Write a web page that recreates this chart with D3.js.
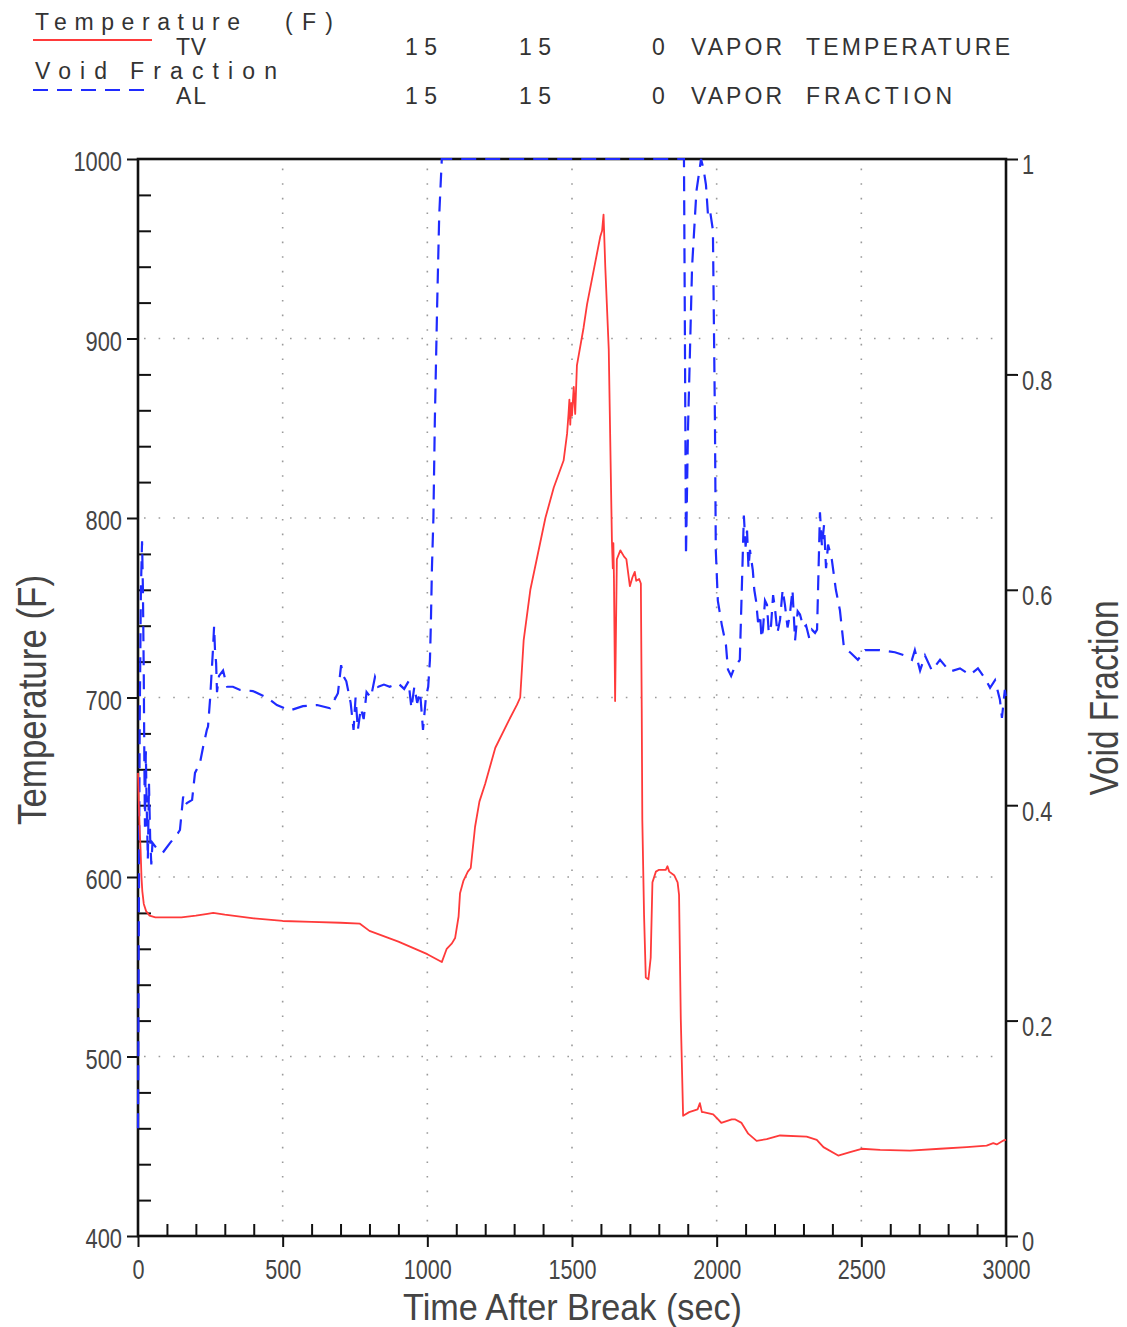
<!DOCTYPE html>
<html>
<head>
<meta charset="utf-8">
<script src="https://cdn.jsdelivr.net/npm/d3@7/dist/d3.min.js"></script>
<style>
  html, body { margin: 0; padding: 0; background: #fff; }
  svg { display: block; }
</style>
</head>
<body>
<svg id="chart" width="1127" height="1327"></svg>
<script>
// ---------------- DATA ----------------
const tempTime = [0,3,6,9,12,15,20,28,40,60,86,150,200,240,260,300,400,500,600,700,767,800,900,1000,1050,1067,1085,1096,1108,1113,1125,1140,1150,1165,1180,1200,1235,1281,1310,1321,1333,1356,1408,1437,1471,1483,1488,1491,1494,1497,1500,1506,1511,1517,1540,1552,1598,1604,1609,1615,1627,1638,1641,1643,1645,1649,1655,1667,1680,1688,1700,1709,1717,1722,1732,1738,1741,1743,1749,1755,1764,1772,1778,1790,1801,1824,1830,1836,1853,1865,1870,1876,1884,1905,1934,1942,1949,1954,1988,2005,2016,2052,2063,2086,2109,2138,2173,2219,2311,2346,2369,2420,2461,2501,2565,2668,2772,2864,2933,2956,2968,2991,3000];
const tempValues = [658,640,626,615,600,592,585,581,578.5,577.5,577.5,577.5,578.5,579.5,580,579,577,575.5,575,574.5,574,570,564,557,552.6,560,563,566,578,591,598,603,605,628,642,652,672,687,696,700,732,760,800,817,832,847,858,866,852,864,857,873,858,885,906,919,957,960,969,940,894,787,772,786,766,698,777,782,778.5,777,762,767,770,765,766,763.5,694,632,579,544,543,555,597,603,604,604,606,603,601,597,590,521,467,469,470.5,474,469,469,467.7,465,463,465,465,463,457,453,454,456,455.4,453.6,449.5,444.8,446.7,448.6,448,447.6,448.6,449.5,450.4,451.7,451,453.2,453.5];

const voidTime = [0,3,6,10,14,17,20,22,24,27,30,34,38,42,46,50,70,86,111,138,145,156,163,169,187,197,214,225,238,242,249,259,263,266,270,273,280,294,308,328,353,397,446,480,525,570,619,664,691,702,710,720,735,745,752,760,770,780,790,805,819,830,850,870,900,920,935,945,955,965,975,985,995,1003,1009,1012,1016,1021,1026,1034,1041,1050,1887,1890,1894,1898,1901,1915,1930,1946,1955,1963,1970,1977,1987,1994,1997,2004,2018,2032,2039,2050,2060,2080,2094,2100,2105,2110,2115,2125,2130,2136,2143,2150,2155,2160,2167,2174,2180,2188,2195,2201,2210,2219,2228,2236,2245,2253,2262,2271,2280,2288,2300,2309,2320,2329,2340,2347,2357,2364,2371,2378,2385,2398,2412,2426,2440,2461,2488,2513,2564,2616,2651,2675,2685,2703,2720,2744,2772,2806,2841,2875,2903,2927,2945,2962,2979,2986,2996,3000];
const voidValues = [0.10,0.30,0.48,0.60,0.645,0.60,0.52,0.44,0.38,0.45,0.40,0.35,0.42,0.37,0.345,0.365,0.358,0.356,0.365,0.374,0.377,0.408,0.400,0.402,0.405,0.43,0.439,0.454,0.47,0.473,0.498,0.544,0.566,0.545,0.532,0.505,0.52,0.525,0.51,0.51,0.507,0.506,0.500,0.493,0.488,0.492,0.493,0.490,0.504,0.530,0.52,0.515,0.495,0.47,0.5,0.47,0.49,0.48,0.505,0.50,0.519,0.51,0.512,0.51,0.513,0.508,0.515,0.49,0.51,0.495,0.505,0.47,0.50,0.51,0.535,0.566,0.621,0.667,0.758,0.865,0.947,1.0,1.0,0.85,0.632,0.70,0.75,0.90,0.97,1.0,0.99,0.976,0.948,0.952,0.934,0.758,0.637,0.59,0.567,0.549,0.526,0.520,0.527,0.535,0.669,0.64,0.655,0.62,0.637,0.618,0.60,0.59,0.57,0.577,0.555,0.563,0.59,0.586,0.56,0.567,0.595,0.584,0.56,0.572,0.6,0.586,0.565,0.577,0.60,0.553,0.58,0.577,0.565,0.567,0.555,0.563,0.56,0.563,0.672,0.64,0.66,0.62,0.642,0.628,0.6,0.581,0.546,0.542,0.535,0.544,0.544,0.542,0.539,0.535,0.544,0.525,0.539,0.525,0.535,0.524,0.527,0.521,0.527,0.518,0.509,0.516,0.498,0.481,0.507,0.50];

const xTicks = [0,500,1000,1500,2000,2500,3000];
const xMinorTicks = [100,200,300,400,600,700,800,900,1100,1200,1300,1400,1600,1700,1800,1900,2100,2200,2300,2400,2600,2700,2800,2900];
const tempTicks = [400,500,600,700,800,900,1000];
const tempMinorTicks = [420,440,460,480,520,540,560,580,620,640,660,680,720,740,760,780,820,840,860,880,920,940,960,980];
const voidTicks = [0,0.2,0.4,0.6,0.8,1];
const voidTickLabels = ["0","0.2","0.4","0.6","0.8","1"];
const xGrid = [500,1000,1500,2000,2500];
const tempGrid = [500,600,700,800,900];

// ---------------- LAYOUT ----------------
const L = 138, R = 1006, T = 159, B = 1236;
const svg = d3.select("#chart");
const x = d3.scaleLinear().domain([0,3000]).range([L,R]);
const yT = d3.scaleLinear().domain([400,1000]).range([B,T]);
const yV = d3.scaleLinear().domain([0,1]).range([B,T]);

const labelFont = "'Liberation Sans', Arial, sans-serif";
const legendFont = "'Liberation Sans', Arial, sans-serif";
function narrow(sel, f) {
  sel.each(function(){ const w = this.getComputedTextLength(); d3.select(this).attr("textLength", w*f).attr("lengthAdjust","spacingAndGlyphs"); });
}

// grid
const grid = svg.append("g").attr("stroke","#9a9a9a").attr("stroke-width",1.6).attr("stroke-dasharray","1.6,13").attr("fill","none");
grid.selectAll("line.h").data(tempGrid).join("line").attr("x1",L+6).attr("x2",R).attr("y1",d=>yT(d)).attr("y2",d=>yT(d));
grid.selectAll("line.v").data(xGrid).join("line").attr("y1",B).attr("y2",T+6).attr("x1",d=>x(d)).attr("x2",d=>x(d));

// axes
function styleAxis(g){ g.select(".domain").remove(); g.selectAll(".tick line").attr("stroke","#111").attr("stroke-width",2); }

const gL = svg.append("g").attr("transform",`translate(${L},0)`)
  .call(d3.axisLeft(yT).tickValues(tempTicks).tickSize(11).tickSizeOuter(0).tickPadding(5).tickFormat(d3.format("d")));
styleAxis(gL);
gL.selectAll(".tick text").attr("font-family",labelFont).attr("font-size",28).attr("fill","#444").attr("dy","0.32em").attr("y",3);
narrow(gL.selectAll(".tick text"), 0.78);

const gLm = svg.append("g").attr("transform",`translate(${L},0)`)
  .call(d3.axisRight(yT).tickValues(tempMinorTicks).tickSize(13).tickFormat(""));
styleAxis(gLm);

const gB = svg.append("g").attr("transform",`translate(0,${B})`)
  .call(d3.axisBottom(x).tickValues(xTicks).tickSize(11).tickSizeOuter(0).tickPadding(0).tickFormat(d3.format("d")));
styleAxis(gB);
gB.selectAll(".tick text").attr("font-family",labelFont).attr("font-size",27).attr("fill","#444").attr("dy",null).attr("y",43);
narrow(gB.selectAll(".tick text"), 0.8);

const gBm = svg.append("g").attr("transform",`translate(0,${B})`)
  .call(d3.axisTop(x).tickValues(xMinorTicks).tickSize(12).tickFormat(""));
styleAxis(gBm);

const gR = svg.append("g").attr("transform",`translate(${R},0)`)
  .call(d3.axisRight(yV).tickValues(voidTicks).tickSize(12).tickSizeOuter(0).tickPadding(4).tickFormat((d,i)=>voidTickLabels[i]));
styleAxis(gR);
gR.selectAll(".tick text").attr("font-family",labelFont).attr("font-size",28).attr("fill","#444").attr("dy","0.32em").attr("y",6);
narrow(gR.selectAll(".tick text"), 0.78);

// frame
svg.append("rect").attr("x",L).attr("y",T).attr("width",R-L).attr("height",B-T)
  .attr("fill","none").attr("stroke","#111").attr("stroke-width",2.6);

// titles
const xt = svg.append("text").attr("x",(403+742)/2).attr("y",1320).attr("text-anchor","middle")
  .attr("font-family",labelFont).attr("font-size",37).attr("fill","#444").text("Time After Break (sec)");
xt.attr("textLength",339).attr("lengthAdjust","spacingAndGlyphs");
const lt = svg.append("text").attr("transform","translate(46,700) rotate(-90)").attr("text-anchor","middle")
  .attr("font-family",labelFont).attr("font-size",40).attr("fill","#444").text("Temperature  (F)");
lt.attr("textLength",250).attr("lengthAdjust","spacingAndGlyphs");
const rt = svg.append("text").attr("transform","translate(1118,698) rotate(-90)").attr("text-anchor","middle")
  .attr("font-family",labelFont).attr("font-size",40).attr("fill","#444").text("Void Fraction");
rt.attr("textLength",195).attr("lengthAdjust","spacingAndGlyphs");

// data lines
const lineV = d3.line().x(d=>x(d[0])).y(d=>yV(d[1]));
const lineT = d3.line().x(d=>x(d[0])).y(d=>yT(d[1]));
const voidData = voidTime.map((t,i)=>[t,voidValues[i]]);
const tempData = tempTime.map((t,i)=>[t,tempValues[i]]);

svg.append("path").datum(voidData).attr("d",lineV).attr("fill","none")
  .attr("stroke","#1f2bff").attr("stroke-width",2.2).attr("stroke-dasharray","15,9");
svg.append("path").datum(tempData).attr("d",lineT).attr("fill","none")
  .attr("stroke","#ff3a3a").attr("stroke-width",1.8).attr("stroke-linejoin","round");

// legend
const legend = svg.append("g").attr("font-family",legendFont).attr("font-size",23).attr("fill","#333");
const legendItems = [
  {s:"Temperature", x0:35, x1:240, y:30},
  {s:"(F)", x0:285, x1:333, y:30},
  {s:"TV", x0:176, x1:206, y:55},
  {s:"15", x0:405, x1:437, y:55},
  {s:"15", x0:519, x1:551, y:55},
  {s:"0", x0:652, x1:666, y:55},
  {s:"VAPOR", x0:691, x1:782, y:55},
  {s:"TEMPERATURE", x0:806, x1:1010, y:55},
  {s:"Void", x0:35, x1:107, y:79},
  {s:"Fraction", x0:130, x1:277, y:79},
  {s:"AL", x0:176, x1:206, y:104},
  {s:"15", x0:405, x1:437, y:104},
  {s:"15", x0:519, x1:551, y:104},
  {s:"0", x0:652, x1:666, y:104},
  {s:"VAPOR", x0:691, x1:782, y:104},
  {s:"FRACTION", x0:806, x1:952, y:104}
];
legend.selectAll("text").data(legendItems).join("text")
  .attr("x",d=>d.x0).attr("y",d=>d.y).attr("textLength",d=>d.x1-d.x0).attr("lengthAdjust","spacing").text(d=>d.s);
svg.append("line").attr("x1",33).attr("x2",152).attr("y1",40).attr("y2",40).attr("stroke","#ff3a3a").attr("stroke-width",2);
svg.append("line").attr("x1",33).attr("x2",152).attr("y1",90).attr("y2",90).attr("stroke","#1f2bff").attr("stroke-width",2).attr("stroke-dasharray","15,9");
</script>
</body>
</html>
